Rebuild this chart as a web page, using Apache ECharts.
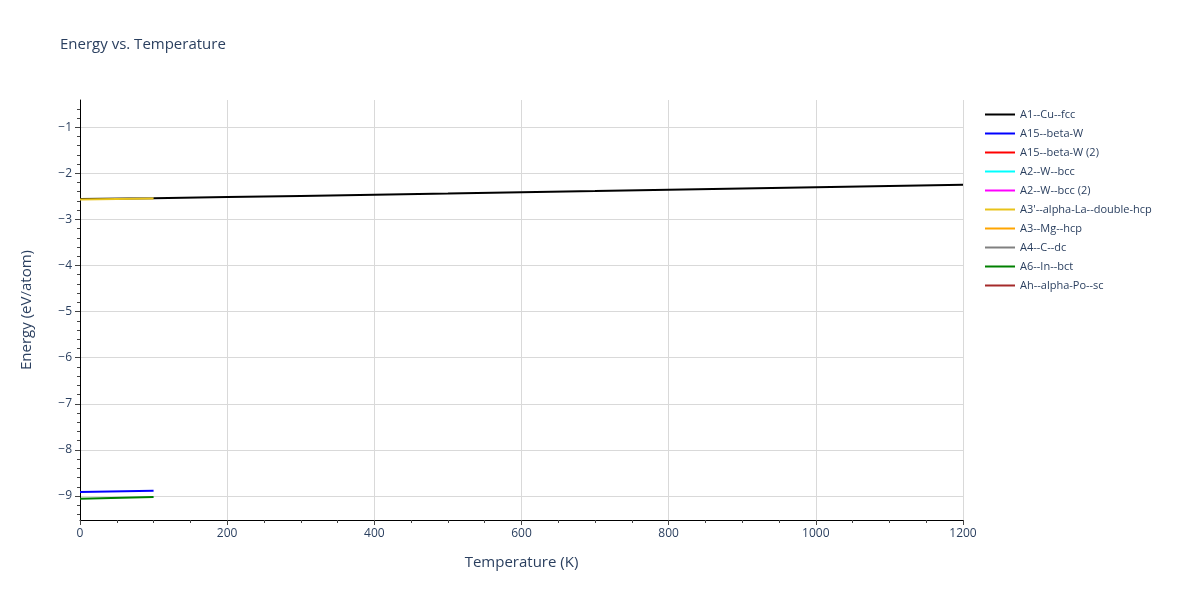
<!DOCTYPE html>
<html>
<head>
<meta charset="utf-8">
<script src="https://cdn.jsdelivr.net/npm/echarts@6/dist/echarts.min.js"></script>
<style>html,body{margin:0;padding:0;background:#fff}#c{width:1200px;height:600px}</style>
</head>
<body>
<div id="c"></div>
<script>
var seriesNames = ["A1--Cu--fcc","A15--beta-W","A15--beta-W (2)","A2--W--bcc","A2--W--bcc (2)","A3'--alpha-La--double-hcp","A3--Mg--hcp","A4--C--dc","A6--In--bct","Ah--alpha-Po--sc"];
var seriesColors = ["#000000","#0000ff","#ff0000","#00ffff","#ff00ff","#e8c31a","#ffa500","#808080","#008000","#a52a2a"];
var tempCu = [0,100,200,300,400,500,600,700,800,900,1000,1100,1200];
var energyCu = [-2.56,-2.54,-2.515,-2.49,-2.465,-2.44,-2.41,-2.385,-2.357,-2.33,-2.30,-2.275,-2.25];
var tempShort = [0,100];
var energyBetaW = [-8.913,-8.885];
var energyLa = [-2.57,-2.545];
var energyIn = [-9.06,-9.02];
var yMajorTicks = [-9,-8,-7,-6,-5,-4,-3,-2,-1];
var yMinorTicks = [];
for (var v = -94; v <= -6; v += 2) { if (v % 10 !== 0) yMinorTicks.push(v / 10); }

function pairs(xs, ys){ return xs.map(function(x,i){ return [x, ys[i]]; }); }
var dataMap = {
  "A1--Cu--fcc": pairs(tempCu, energyCu),
  "A15--beta-W": pairs(tempShort, energyBetaW),
  "A3'--alpha-La--double-hcp": pairs(tempShort, energyLa),
  "A6--In--bct": pairs(tempShort, energyIn)
};
var font = "'Open Sans', verdana, arial, sans-serif";
var txt = "#2a3f5f";
var yMin = -9.52, yMax = -0.41;
function fmt(v){ return String(v).replace('-', '\u2212'); }

var series = seriesNames.map(function(n, i){
  return {
    name: n, type: 'line', data: dataMap[n] || [], symbol: 'none', showSymbol: false,
    lineStyle: { color: seriesColors[i], width: 2 }, itemStyle: { color: seriesColors[i] },
    z: 2 + i, animation: false
  };
});

var chart = echarts.init(document.getElementById('c'));
chart.setOption({
  animation: false,
  title: { text: 'Energy vs. Temperature', left: 55, top: 32, textStyle: { fontFamily: font, fontSize: 15, fontWeight: 'normal', color: txt } },
  legend: {
    orient: 'vertical', left: 980, top: 104, itemWidth: 30, itemHeight: 14, itemGap: 8,
    icon: 'path://M0,0 L30,0 L30,2 L0,2 Z',
    textStyle: { fontFamily: font, fontSize: 11, color: txt }, data: seriesNames
  },
  grid: { left: 80, right: 237, top: 100, bottom: 80 },
  xAxis: {
    type: 'value', min: 0, max: 1200, interval: 200,
    name: 'Temperature (K)', nameLocation: 'middle', nameGap: 35,
    nameTextStyle: { fontFamily: font, fontSize: 15, color: txt },
    axisLine: { show: true, onZero: false, lineStyle: { color: '#000', width: 1 } },
    axisTick: { show: true, inside: false, length: 5, lineStyle: { color: '#444' } },
    minorTick: { show: true, splitNumber: 4, length: 3, lineStyle: { color: '#444' } },
    axisLabel: { fontFamily: font, fontSize: 12, color: txt, margin: 8, formatter: function(v){ return String(v); } },
    splitLine: { show: true, lineStyle: { color: '#d9d9d9', width: 1 } }
  },
  yAxis: [{
    type: 'value', min: yMin, max: yMax,
    name: 'Energy (eV/atom)', nameLocation: 'middle', nameGap: 46,
    nameTextStyle: { fontFamily: font, fontSize: 15, color: txt },
    axisLine: { show: true, onZero: false, lineStyle: { color: '#000', width: 1 } },
    axisTick: { show: true, inside: false, length: 5, customValues: yMajorTicks, lineStyle: { color: '#444' } },
    axisLabel: { fontFamily: font, fontSize: 12, color: txt, margin: 8, customValues: yMajorTicks, formatter: fmt },
    splitLine: { show: true, lineStyle: { color: '#d9d9d9', width: 1 } }
  }, {
    type: 'value', min: yMin, max: yMax, position: 'left', offset: 0,
    axisLine: { show: false },
    axisTick: { show: true, inside: false, length: 3, customValues: yMinorTicks, lineStyle: { color: '#444' } },
    axisLabel: { show: false },
    splitLine: { show: false }
  }],
  series: series
});
</script>
</body>
</html>
